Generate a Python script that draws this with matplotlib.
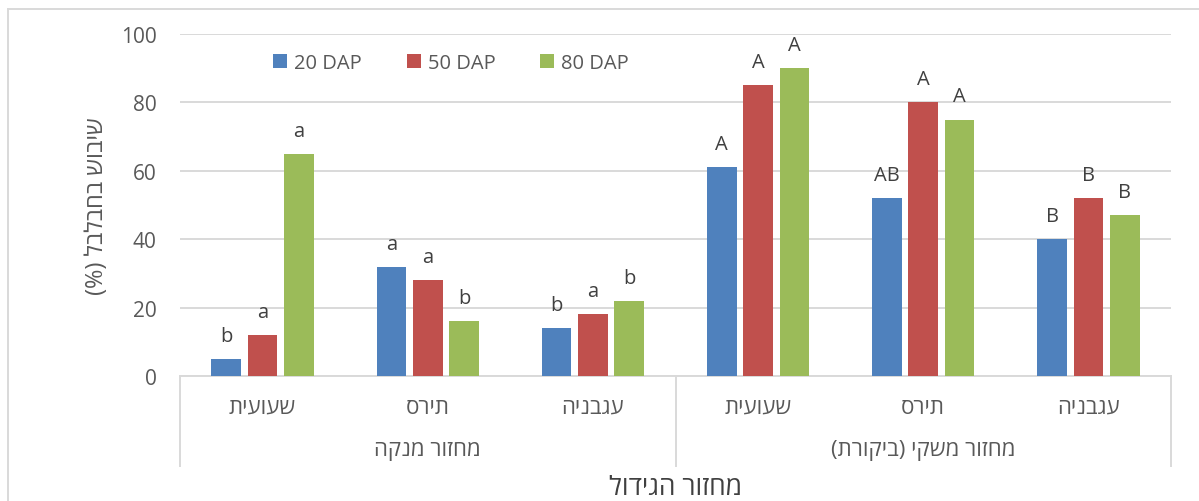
import matplotlib
matplotlib.use("Agg")
import matplotlib.pyplot as plt
import matplotlib.transforms as mtransforms
from matplotlib.lines import Line2D
import numpy as np

plt.rcParams['font.family'] = ['Open Sans', 'DejaVu Sans']

# ---- data -----------------------------------------------------------------
crops = ["שעועית", "תירס", "עגבניה"]
cycles = ["מחזור מנקה", "מחזור משקי (ביקורת)"]
series_names = ["20 DAP", "50 DAP", "80 DAP"]

dap20 = [5, 32, 14, 61, 52, 40]
dap50 = [12, 28, 18, 85, 80, 52]
dap80 = [65, 16, 22, 90, 75, 47]

letters20 = ["b", "a", "b", "A", "AB", "B"]
letters50 = ["a", "a", "a", "A", "A", "B"]
letters80 = ["a", "b", "b", "A", "A", "B"]

y_ticks = [0, 20, 40, 60, 80, 100]
y_title = "שיבוש בחבלבל (%)"
x_title = "מחזור הגידול"

colors = ["#4F81BD", "#C0504D", "#9BBB59"]


def rtl(s):
    """Reorder a Hebrew string for left-to-right glyph layout."""
    mirror = {"(": ")", ")": "("}
    return "".join(mirror.get(c, c) for c in reversed(s))


# ---- figure ---------------------------------------------------------------
W, H = 1199, 502
fig = plt.figure(figsize=(W / 100, H / 100), dpi=100)
fig.patch.set_facecolor("white")

L, R, T, B = 180, 1171, 35, 377
ax = fig.add_axes([L / W, 1 - B / H, (R - L) / W, (B - T) / H])

grid_c = "#D9D9D9"
txt_c = "#595959"
dark_c = "#404040"

labels = [c for _ in cycles for c in crops]
x = np.arange(len(labels))
width = 0.18
offset = 0.22

all_vals = [dap20, dap50, dap80]
all_letters = [letters20, letters50, letters80]
handles = []
for i, (vals, lets) in enumerate(zip(all_vals, all_letters)):
    xs = x + (i - 1) * offset
    bars = ax.bar(xs, vals, width, color=colors[i], label=series_names[i],
                  zorder=3, linewidth=0)
    handles.append(bars)
    for xi, v, t in zip(xs, vals, lets):
        ax.annotate(t, (xi, v), xytext=(0, 13), textcoords="offset points",
                    ha="center", va="baseline", fontsize=14.5, color=dark_c)

ax.set_xlim(-0.5, len(labels) - 0.5)
ax.set_ylim(0, 100)
ax.set_yticks(y_ticks)
ax.set_yticklabels([str(t) for t in y_ticks], fontsize=15, color=txt_c)
ax.tick_params(axis="y", length=0, pad=17)
ax.yaxis.grid(True, color=grid_c, linewidth=1.4, zorder=0)
ax.set_axisbelow(True)

ax.set_xticks(x)
ax.set_xticklabels([rtl(s) for s in labels], fontsize=16, color=txt_c)
ax.tick_params(axis="x", length=0, pad=15)

for side in ["top", "right", "left"]:
    ax.spines[side].set_visible(False)
ax.spines["bottom"].set_color(grid_c)
ax.spines["bottom"].set_linewidth(1.4)

# multi-level category axis: group separators and group names
trans = mtransforms.blended_transform_factory(ax.transData, ax.transAxes)
y_sep = (B - 467) / (B - T)
for xs in [-0.5, 2.5, 5.5]:
    ax.add_line(Line2D([xs, xs], [0, y_sep], transform=trans, color=grid_c,
                       linewidth=1.4, clip_on=False))
y_group = (B - 451) / (B - T)
for gi, g in enumerate(cycles):
    ax.text(gi * 3 + 1, y_group, rtl(g), transform=trans, ha="center",
            va="center", fontsize=16, color=txt_c)

ax.set_xlabel(rtl(x_title), fontsize=19, color=dark_c)
ax.xaxis.set_label_coords(0.5, (B - 489) / (B - T))
ax.xaxis.label.set_va("center")

ax.set_ylabel(rtl(y_title), fontsize=17, color=txt_c)
ax.yaxis.set_label_coords((97 - L) / (R - L), 0.5)
ax.yaxis.label.set_va("center")

leg = ax.legend(handles=handles, loc="center",
                bbox_to_anchor=((451 - L) / (R - L), (B - 64) / (B - T)),
                ncol=3, frameon=False, fontsize=14.5, handlelength=0.7,
                handleheight=0.7, handletextpad=0.35, columnspacing=2.2,
                labelcolor=txt_c, borderaxespad=0, borderpad=0)

# chart-area border
fig.add_artist(Line2D([8 / W, 1.0], [1 - 10 / H, 1 - 10 / H],
                      transform=fig.transFigure, color=grid_c, linewidth=1.4))
fig.add_artist(Line2D([8 / W, 8 / W], [0.0, 1 - 10 / H],
                      transform=fig.transFigure, color=grid_c, linewidth=1.4))

fig.savefig("out.png", dpi=100)
